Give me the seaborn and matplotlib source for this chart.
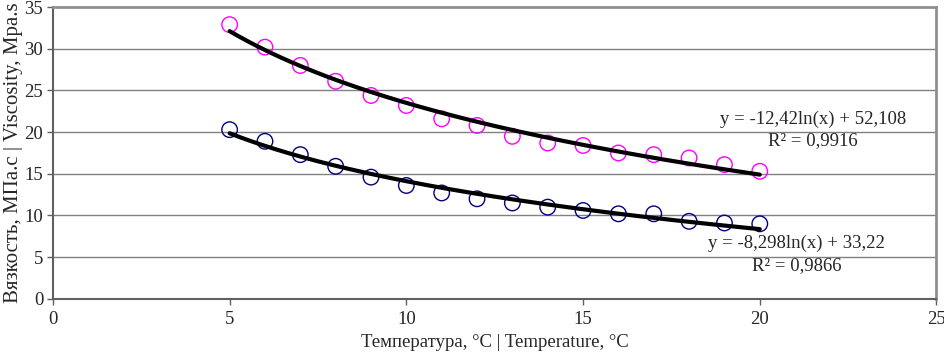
import numpy as np
import pandas as pd
import matplotlib
matplotlib.use("Agg")
import matplotlib.pyplot as plt
import seaborn as sns

# ---- data ----
temp = [5, 6, 7, 8, 9, 10, 11, 12, 13, 14, 15, 16, 17, 18, 19, 20]
visc_pink = [32.9, 30.2, 28.0, 26.1, 24.4, 23.2, 21.6, 20.8, 19.5, 18.7, 18.4, 17.5, 17.3, 16.9, 16.1, 15.3]
visc_blue = [20.3, 18.9, 17.3, 15.9, 14.6, 13.6, 12.7, 12.0, 11.5, 11.0, 10.6, 10.2, 10.2, 9.3, 9.1, 9.0]

# log trendline coefficients shown on the chart
fit_pink = (-12.42, 52.108)
fit_blue = (-8.298, 33.22)
eq_pink = ["y = -12,42ln(x) + 52,108", "R² = 0,9916"]
eq_blue = ["y = -8,298ln(x) + 33,22", "R² = 0,9866"]

x_ticks = [0, 5, 10, 15, 20, 25]
y_ticks = [0, 5, 10, 15, 20, 25, 30, 35]

sns.set_style("white")
plt.rcParams['font.family'] = ['Liberation Serif', 'DejaVu Serif']

df = pd.DataFrame({"t": temp, "pink": visc_pink, "blue": visc_blue})
xs = np.linspace(min(temp), max(temp), 200)
trend = pd.DataFrame({"t": xs,
                      "pink": fit_pink[0] * np.log(xs) + fit_pink[1],
                      "blue": fit_blue[0] * np.log(xs) + fit_blue[1]})

fig, ax = plt.subplots(figsize=(9.45, 3.57), dpi=100)
fig.subplots_adjust(left=0.056, right=0.991, top=0.98, bottom=0.163)

for yv in y_ticks[1:-1]:
    ax.axhline(yv, color='#808080', linewidth=1.0, zorder=0)

sns.scatterplot(data=df, x="t", y="pink", marker='o', s=125, facecolor='none',
                edgecolor='#FF00FF', linewidth=1.0, ax=ax, zorder=3)
sns.scatterplot(data=df, x="t", y="blue", marker='o', s=125, facecolor='none',
                edgecolor='#000080', linewidth=1.0, ax=ax, zorder=3)
sns.lineplot(data=trend, x="t", y="pink", color='black', linewidth=3, ax=ax, zorder=4)
sns.lineplot(data=trend, x="t", y="blue", color='black', linewidth=3, ax=ax, zorder=4)

fs = 13.5
ax.text(21.5, 21.5, eq_pink[0], ha='center', va='center', fontsize=fs)
ax.text(21.5, 19.0, eq_pink[1], ha='center', va='center', fontsize=fs)
ax.text(21.05, 6.67, eq_blue[0], ha='center', va='center', fontsize=fs)
ax.text(21.05, 4.0, eq_blue[1], ha='center', va='center', fontsize=fs)

ax.set_xlim(0, 25)
ax.set_ylim(0, 35)
ax.set_xticks(x_ticks)
ax.set_yticks(y_ticks)
ax.tick_params(axis='both', labelsize=fs, direction='out', length=4, width=1,
               color='#606060', bottom=True, left=True)
ax.tick_params(axis='x', pad=5)
ax.tick_params(axis='y', pad=3)
ax.set_xlabel("Температура, °C | Temperature, °C", fontsize=fs, labelpad=4)
ax.set_ylabel("Вязкость, МПа.с | Viscosity, Mpa.s", fontsize=15, labelpad=1)

for side in ['left', 'bottom']:
    ax.spines[side].set_color('#606060')
    ax.spines[side].set_linewidth(1.5)
for side in ['top', 'right']:
    ax.spines[side].set_color('#909090')
    ax.spines[side].set_linewidth(2.0)

fig.savefig("out.png", dpi=100)
